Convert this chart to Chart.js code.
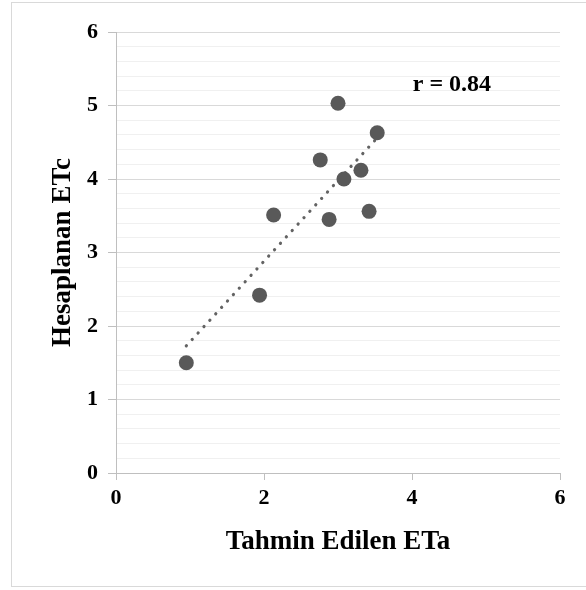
<!DOCTYPE html>
<html>
<head>
<meta charset="utf-8">
<script src="https://cdn.jsdelivr.net/npm/chart.js@4/dist/chart.umd.min.js"></script>
<style>
  html, body { margin: 0; padding: 0; background: #fff; }
  #frame { position: absolute; left: 11px; top: 2px; width: 590px; height: 583px; border: 1px solid #d9d9d9; }
  #wrap { position: absolute; left: 0; top: 0; width: 586px; height: 590px; }
</style>
</head>
<body>
<div id="frame"></div>
<div id="wrap"><canvas id="myChart" width="586" height="590"></canvas></div>
<script>
// measured points (Tahmin Edilen ETa vs Hesaplanan ETc)
var etaValues = [0.95, 1.94, 2.13, 2.76, 2.88, 3.00, 3.08, 3.31, 3.42, 3.53];
var etcValues = [1.50, 2.42, 3.51, 4.26, 3.45, 5.03, 4.00, 4.12, 3.56, 4.63];

// trend line ends
var trendX = [0.95, 3.53];
var trendY = [1.73, 4.56];

var xTicks = [0, 2, 4, 6];
var rLabel = 'r = 0.84';

function toPoints(xs, ys) {
  return xs.map(function (x, i) { return { x: x, y: ys[i] }; });
}

function isMajor(v) {
  return Math.abs(v - Math.round(v)) < 1e-6;
}

var font = 'Liberation Serif';

var rLabelPlugin = {
  id: 'rLabel',
  afterDatasetsDraw: function (chart) {
    var ctx = chart.ctx;
    var x = chart.scales.x.getPixelForValue(4.54);
    var y = chart.scales.y.getPixelForValue(5.28);
    ctx.save();
    ctx.font = 'bold 24px "' + font + '"';
    ctx.fillStyle = '#000';
    ctx.textAlign = 'center';
    ctx.textBaseline = 'middle';
    ctx.fillText(rLabel, x, y);
    ctx.restore();
  }
};

var ctx = document.getElementById('myChart').getContext('2d');
var chart = new Chart(ctx, {
  type: 'scatter',
  data: {
    datasets: [{
      label: 'ETc',
      data: toPoints(etaValues, etcValues),
      backgroundColor: '#595959',
      borderWidth: 0,
      pointRadius: 7.5,
      order: 1
    },
    {
      label: 'Trend',
      data: toPoints(trendX, trendY),
      showLine: true,
      borderColor: '#636363',
      borderWidth: 3.2,
      borderDash: [0.1, 8.6],
      borderCapStyle: 'round',
      pointRadius: 0,
      order: 2
    }]
  },
  options: {
    responsive: false,
    animation: false,
    layout: { padding: { top: 32, right: 26, left: 0, bottom: 0 } },
    plugins: {
      legend: { display: false },
      tooltip: { enabled: false }
    },
    scales: {
      x: {
        type: 'linear',
        min: 0,
        max: 6,
        afterBuildTicks: function (scale) {
          scale.ticks = xTicks.map(function (v) { return { value: v }; });
        },
        afterFit: function (scale) { scale.height = 117; },
        grid: { drawOnChartArea: false, tickLength: 7, tickColor: '#bfbfbf' },
        border: { color: '#bfbfbf' },
        ticks: { color: '#000', padding: 5, font: { family: font, size: 22, weight: 'bold' } },
        title: {
          display: true,
          text: 'Tahmin Edilen ETa',
          color: '#000',
          padding: { top: 0, bottom: 32 },
          font: { family: font, size: 27, weight: 'bold' }
        }
      },
      y: {
        min: 0,
        max: 6,
        afterFit: function (scale) { scale.width = 116; },
        ticks: {
          stepSize: 0.2,
          autoSkip: false,
          color: '#000',
          padding: 10,
          font: { family: font, size: 22, weight: 'bold' },
          callback: function (v) { return isMajor(v) ? Math.round(v) : ''; }
        },
        grid: {
          tickLength: 8,
          color: function (c) { return isMajor(c.tick.value) ? '#d9d9d9' : '#f0f0f0'; },
          tickColor: function (c) { return isMajor(c.tick.value) ? '#bfbfbf' : 'rgba(0,0,0,0)'; }
        },
        border: { color: '#bfbfbf' },
        title: {
          display: true,
          text: 'Hesaplanan ETc',
          color: '#000',
          padding: { top: 47, bottom: 0 },
          font: { family: font, size: 27, weight: 'bold' }
        }
      }
    }
  },
  plugins: [rLabelPlugin]
});
</script>
</body>
</html>
